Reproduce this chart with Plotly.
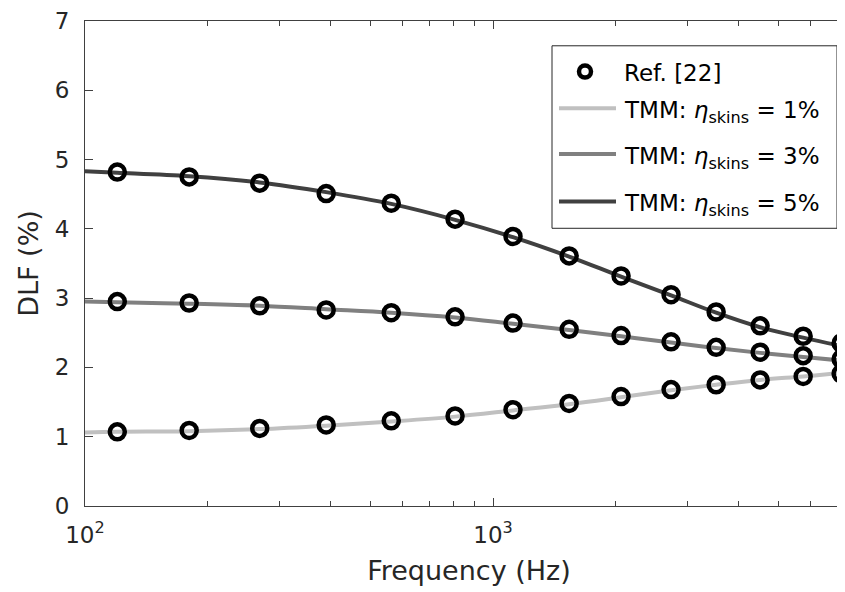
import plotly.graph_objects as go

# Reference data (Ref. [22])
ref_freq = [120, 180, 268, 390, 563, 807, 1119, 1536, 2059, 2730, 3521, 4512, 5753, 7127]
ref_eta1 = [1.07, 1.09, 1.12, 1.17, 1.23, 1.30, 1.39, 1.48, 1.58, 1.68, 1.75, 1.82, 1.87, 1.91]
ref_eta3 = [2.95, 2.93, 2.89, 2.83, 2.79, 2.73, 2.64, 2.55, 2.46, 2.37, 2.29, 2.22, 2.17, 2.12]
ref_eta5 = [4.82, 4.75, 4.66, 4.51, 4.37, 4.14, 3.89, 3.61, 3.32, 3.05, 2.80, 2.60, 2.45, 2.35]

# TMM curves
tmm_freq = [100, 120, 180, 268, 390, 563, 807, 1119, 1536, 2059, 2730, 3521, 4512, 5753, 7127, 7700]
tmm_eta1 = [1.06, 1.07, 1.08, 1.11, 1.16, 1.22, 1.29, 1.38, 1.47, 1.57, 1.67, 1.75, 1.82, 1.87, 1.92, 1.94]
tmm_eta3 = [2.95, 2.94, 2.92, 2.89, 2.84, 2.79, 2.72, 2.63, 2.54, 2.45, 2.36, 2.28, 2.21, 2.15, 2.10, 2.08]
tmm_eta5 = [4.83, 4.81, 4.76, 4.67, 4.53, 4.36, 4.13, 3.88, 3.60, 3.31, 3.04, 2.79, 2.58, 2.43, 2.31, 2.27]

series_names = ["TMM: <i>η</i><sub>skins</sub> = 1%",
                "TMM: <i>η</i><sub>skins</sub> = 3%",
                "TMM: <i>η</i><sub>skins</sub> = 5%"]
ref_name = "Ref. [22]"

x_major = [100, 1000]
x_major_text = ["10<sup>2</sup>", "10<sup>3</sup>"]
x_minor = [200, 300, 400, 500, 600, 700, 800, 900, 2000, 3000, 4000, 5000, 6000, 7000]
y_ticks = [0, 1, 2, 3, 4, 5, 6, 7]

FONT = "DejaVu Sans, sans-serif"
AX = "#262626"
AXLINE = "#404040"
COLORS = ["#c0c0c0", "#808080", "#404040"]

W, H = 845, 592
ML, MR, MT, MB = 77, 0, 9, 94
PW, PH = W - ML - MR, H - MT - MB


def px(x):
    return (x - ML) / PW


def py(y):
    return (H - MB - y) / PH


fig = go.Figure()

for vals, col, name in zip([tmm_eta1, tmm_eta3, tmm_eta5], COLORS, series_names):
    fig.add_trace(go.Scatter(x=tmm_freq, y=vals, mode="lines", name=name,
                             line=dict(color=col, width=4, shape="spline"),
                             showlegend=False))

mk = dict(symbol="circle-open", size=15, color="black", line=dict(width=4.5, color="black"))
for yy in (ref_eta5, ref_eta3, ref_eta1):
    fig.add_trace(go.Scatter(x=ref_freq, y=yy, mode="markers", name=ref_name,
                             marker=mk, showlegend=False))

# ---- legend box drawn in paper space ----
shapes = [dict(type="rect", xref="paper", yref="paper", layer="above",
               x0=px(544), x1=px(829), y0=py(218), y1=py(34),
               line=dict(color=AX, width=1), fillcolor="white")]
# marker sample
shapes.append(dict(type="circle", xref="paper", yref="paper", layer="above",
                   xsizemode="pixel", ysizemode="pixel",
                   xanchor=px(577), yanchor=py(60),
                   x0=-6, x1=6, y0=-6, y1=6,
                   line=dict(color="black", width=4.5)))
row_y = [97, 143, 191]
for col, yy in zip(COLORS, row_y):
    shapes.append(dict(type="line", xref="paper", yref="paper", layer="above",
                       x0=px(551), x1=px(608), y0=py(yy), y1=py(yy),
                       line=dict(color=col, width=4)))

annotations = [dict(text=ref_name, xref="paper", yref="paper", x=px(614), y=py(61),
                    xanchor="left", yanchor="middle", showarrow=False,
                    font=dict(family=FONT, size=23, color="black"))]
for name, yy in zip(series_names, row_y):
    annotations.append(dict(text=name, xref="paper", yref="paper", x=px(614), y=py(yy + 4),
                            xanchor="left", yanchor="middle", showarrow=False,
                            font=dict(family=FONT, size=23, color="black")))

fig.update_layout(
    width=W, height=H,
    margin=dict(l=ML, r=MR, t=MT, b=MB),
    paper_bgcolor="white", plot_bgcolor="white",
    font=dict(family=FONT, size=23, color=AX),
    showlegend=False,
    shapes=shapes, annotations=annotations,
)

fig.update_xaxes(type="log", range=[2, 3.882],
                 showline=True, linecolor=AXLINE, linewidth=1, mirror="ticks",
                 ticks="inside", ticklen=8, tickcolor=AXLINE,
                 tickvals=x_major, ticktext=x_major_text, ticklabelstandoff=8,
                 ticklabeloverflow="allow",
                 minor=dict(ticks="inside", ticklen=5, tickcolor=AXLINE, tickvals=x_minor, showgrid=False),
                 showgrid=False, zeroline=False,
                 title=dict(text="Frequency (Hz)", font=dict(size=27, color=AX), standoff=14),
                 tickfont=dict(size=23, color=AX))
fig.update_yaxes(range=[0, 7], tickvals=y_ticks,
                 showline=True, linecolor=AXLINE, linewidth=1, mirror=False,
                 ticks="inside", ticklen=8, tickcolor=AXLINE,
                 ticklabelstandoff=10, ticklabeloverflow="allow",
                 showgrid=False, zeroline=False,
                 title=dict(text="DLF (%)", font=dict(size=27, color=AX), standoff=8),
                 tickfont=dict(size=23, color=AX))

fig.write_html("out.html")
